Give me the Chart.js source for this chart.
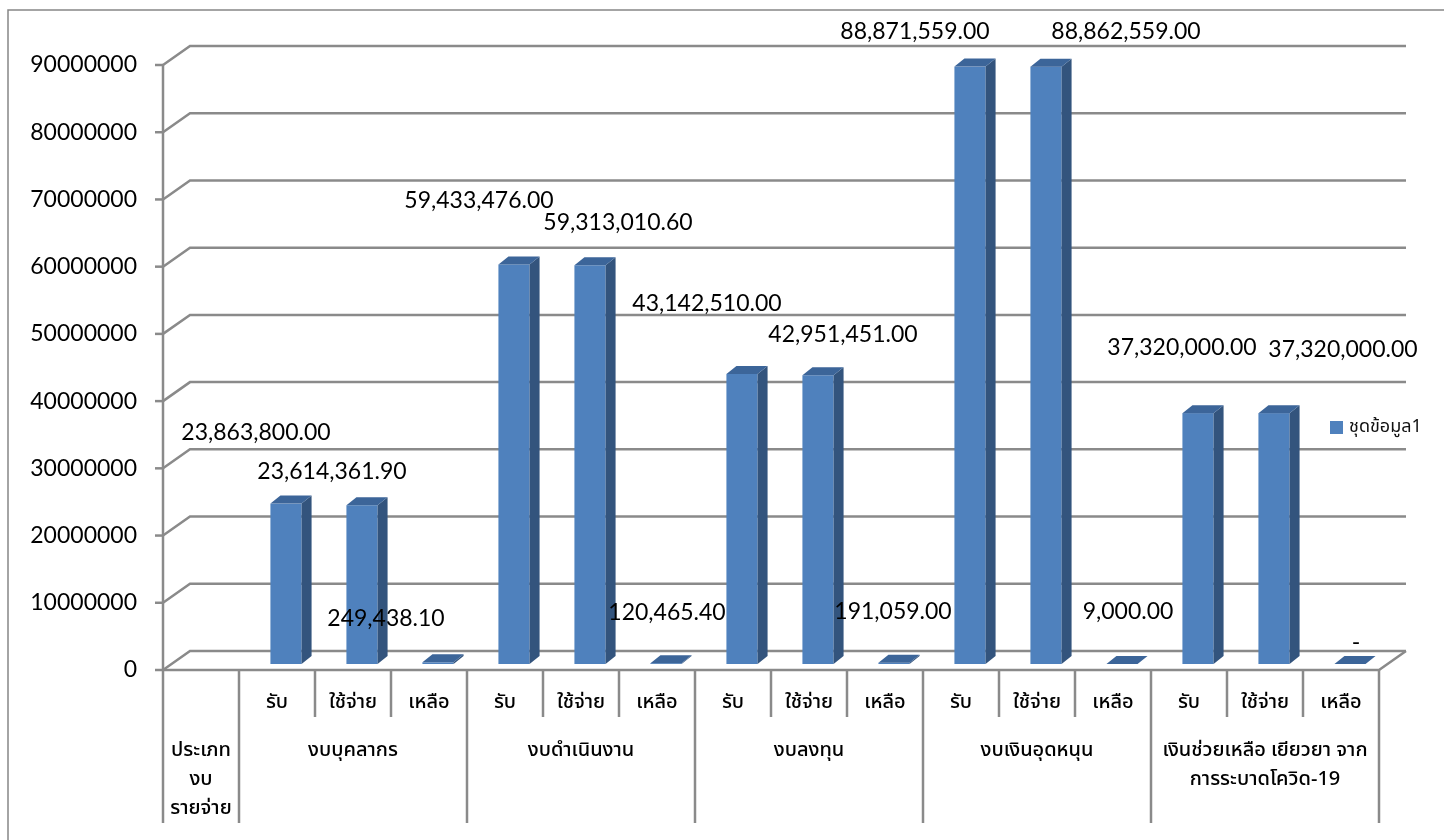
<!DOCTYPE html>
<html>
<head>
<meta charset="utf-8">
<script src="https://cdn.jsdelivr.net/npm/chart.js@4.4.1/dist/chart.umd.min.js"></script>
<style>
  html, body { margin: 0; padding: 0; background: #fff; }
  #wrap { width: 1444px; height: 840px; position: relative; }
</style>
</head>
<body>
<div id="wrap"><canvas id="myChart" width="1444" height="840"></canvas></div>
<script>
// chart data
const groupNames = ['ประเภท\nงบ\nรายจ่าย', 'งบบุคลากร', 'งบดำเนินงาน', 'งบลงทุน', 'งบเงินอุดหนุน', 'เงินช่วยเหลือ เยียวยา จาก\nการระบาดโควิด-19'];
const groupSpans = [1, 3, 3, 3, 3, 3];
const subLabels = ['', 'รับ', 'ใช้จ่าย', 'เหลือ', 'รับ', 'ใช้จ่าย', 'เหลือ', 'รับ', 'ใช้จ่าย', 'เหลือ', 'รับ', 'ใช้จ่าย', 'เหลือ', 'รับ', 'ใช้จ่าย', 'เหลือ'];
const amounts = [null, 23863800, 23614361.90, 249438.10, 59433476, 59313010.60, 120465.40, 43142510, 42951451, 191059, 88871559, 88862559, 9000, 37320000, 37320000, 0];
const yTicks = [0, 10000000, 20000000, 30000000, 40000000, 50000000, 60000000, 70000000, 80000000, 90000000];
const seriesName = 'ชุดข้อมูล1';

// label nudges (px) so the value labels sit where Excel put them
const labelNudge = [null, [-21, -77], [-21, -40], [-43, -50], [-26, -70], [37, -49], [10, -57], [-26, -76], [34, -47], [8, -57], [-46, -41], [89, -41], [15, -58], [-7, -72], [78, -70], [15, -27]];

const NUM_FONT = 'Lato, "Liberation Sans", sans-serif';
const THAI_FONT = '"Noto Sans Thai", "Noto Sans Thai UI", Tahoma, "Noto Sans", sans-serif';
const GRID = '#8a8a8a';
const FRONT = '#4f81bd', SIDE = '#33547d', TOP = '#3c6599';

const floorDepth = { dx: 27, dy: 19 };
const barDepth = { dx: 10, dy: 8 };
const barShift = { dx: 9, dy: 6 };

function line(ctx, pts) {
  ctx.beginPath();
  ctx.moveTo(pts[0][0], pts[0][1]);
  for (let i = 1; i < pts.length; i++) ctx.lineTo(pts[i][0], pts[i][1]);
  ctx.stroke();
}
function poly(ctx, pts, color) {
  ctx.beginPath();
  ctx.moveTo(pts[0][0], pts[0][1]);
  for (let i = 1; i < pts.length; i++) ctx.lineTo(pts[i][0], pts[i][1]);
  ctx.closePath();
  ctx.fillStyle = color;
  ctx.fill();
}
function fmt(v) {
  if (v === 0) return '-';
  return v.toLocaleString('en-US', { minimumFractionDigits: 2, maximumFractionDigits: 2 });
}

const excel3d = {
  id: 'excel3d',
  beforeDatasetsDraw(chart) {
    const { ctx, chartArea: a, scales: { y } } = chart;
    ctx.save();
    // outer frame
    ctx.strokeStyle = '#868686';
    ctx.lineWidth = 1.5;
    ctx.strokeRect(8, 10, 1460, 860);

    ctx.strokeStyle = GRID;
    ctx.lineWidth = 2.5;
    yTicks.forEach(v => {
      const py = y.getPixelForValue(v);
      line(ctx, [[a.left - 8, py], [a.left, py]]);
      line(ctx, [[a.left, py], [a.left + floorDepth.dx, py - floorDepth.dy], [a.right + floorDepth.dx, py - floorDepth.dy]]);
    });
    // value axis and floor front edge
    line(ctx, [[a.left, y.getPixelForValue(yTicks[yTicks.length - 1])], [a.left, a.bottom]]);
    line(ctx, [[a.left, a.bottom], [a.right, a.bottom], [a.right + floorDepth.dx, a.bottom - floorDepth.dy]]);
    ctx.restore();
  },
  afterDatasetsDraw(chart) {
    const { ctx, chartArea: a, scales: { x } } = chart;
    const meta = chart.getDatasetMeta(0);
    ctx.save();

    // bars as boxes
    meta.data.forEach((el, i) => {
      if (amounts[i] === null) return;
      const w = el.width;
      const x0 = el.x - w / 2 + barShift.dx, x1 = x0 + w;
      const top = el.y - barShift.dy, base = el.base - barShift.dy;
      if (base - top > 0.5) {
        ctx.fillStyle = FRONT;
        ctx.fillRect(x0, top, w, base - top);
        poly(ctx, [[x1, top], [x1 + barDepth.dx, top - barDepth.dy], [x1 + barDepth.dx, base - barDepth.dy], [x1, base]], SIDE);
      }
      poly(ctx, [[x0, top], [x0 + barDepth.dx, top - barDepth.dy], [x1 + barDepth.dx, top - barDepth.dy], [x1, top]], TOP);
    });

    // value labels
    ctx.fillStyle = '#000';
    ctx.font = '23px ' + NUM_FONT;
    ctx.textAlign = 'center';
    ctx.textBaseline = 'middle';
    meta.data.forEach((el, i) => {
      if (amounts[i] === null) return;
      const n = labelNudge[i];
      ctx.fillText(fmt(amounts[i]), el.x + n[0], el.y + n[1]);
    });

    // category table under the floor
    const colW = (a.right - a.left) / subLabels.length;
    const edges = [0];
    groupSpans.forEach(s => edges.push(edges[edges.length - 1] + s));
    ctx.strokeStyle = GRID;
    ctx.lineWidth = 2.5;
    for (let i = 0; i <= subLabels.length; i++) {
      const px = x.getPixelForValue(0) - colW / 2 + i * colW;
      const full = edges.includes(i);
      line(ctx, [[px, a.bottom], [px, a.bottom + (full ? 153 : 47)]]);
    }
    ctx.fillStyle = '#000';
    ctx.font = '500 20px ' + THAI_FONT;
    subLabels.forEach((s, i) => {
      if (s) ctx.fillText(s, x.getPixelForValue(i), a.bottom + 34);
    });
    groupNames.forEach((g, gi) => {
      const mid = (edges[gi] + edges[gi + 1] - 1) / 2;
      const px = x.getPixelForValue(0) + mid * colW;
      g.split('\n').forEach((ln, li) => ctx.fillText(ln, px, a.bottom + 82 + li * 29));
    });

    // legend
    ctx.fillStyle = FRONT;
    ctx.fillRect(1330, 421, 13, 13);
    ctx.fillStyle = '#111';
    ctx.textAlign = 'left';
    ctx.font = '18px ' + THAI_FONT;
    ctx.fillText(seriesName, 1349, 428);
    ctx.restore();
  }
};

new Chart(document.getElementById('myChart'), {
  type: 'bar',
  data: {
    labels: subLabels,
    datasets: [{
      label: seriesName,
      data: amounts,
      backgroundColor: 'rgba(0,0,0,0)',
      borderWidth: 0,
      categoryPercentage: 1,
      barPercentage: 0.41
    }]
  },
  options: {
    responsive: false,
    animation: false,
    layout: { padding: { left: 0, right: 65, top: 65, bottom: 170 } },
    plugins: { legend: { display: false }, tooltip: { enabled: false } },
    scales: {
      x: { display: false },
      y: {
        min: 0,
        max: 90000000,
        afterFit(scale) { scale.width = 163; },
        afterBuildTicks(scale) { scale.ticks = yTicks.map(v => ({ value: v })); },
        grid: { display: false, drawTicks: false },
        border: { display: false },
        ticks: {
          padding: 26,
          color: '#000',
          font: { family: NUM_FONT, size: 23 },
          callback: v => String(v)
        }
      }
    }
  },
  plugins: [excel3d]
});
</script>
</body>
</html>
